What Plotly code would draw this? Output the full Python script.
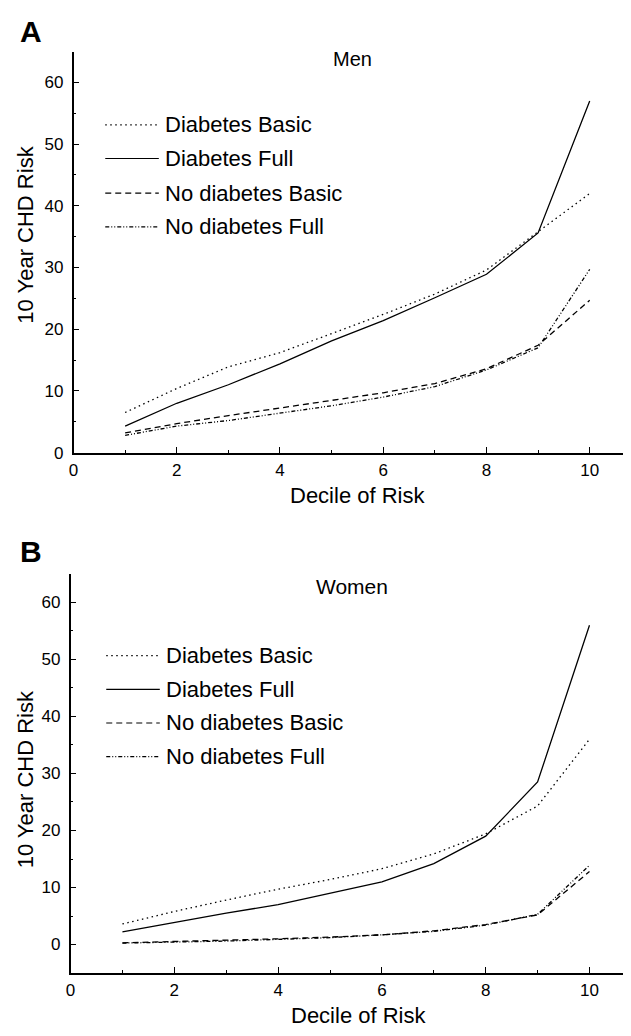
import plotly.graph_objects as go

# ---- data ----
deciles = [1, 2, 3, 4, 5, 6, 7, 8, 9, 10]
series_names = ["Diabetes Basic", "Diabetes Full", "No diabetes Basic", "No diabetes Full"]

men_diabetes_basic = [6.5, 10.4, 13.9, 16.2, 19.3, 22.4, 25.7, 29.6, 35.8, 42.0]
men_diabetes_full = [4.3, 8.0, 11.0, 14.4, 18.1, 21.4, 25.1, 28.9, 35.6, 57.0]
men_nodiab_basic = [3.2, 4.7, 6.0, 7.2, 8.4, 9.7, 11.2, 13.6, 17.4, 24.7]
men_nodiab_full = [2.8, 4.3, 5.2, 6.4, 7.6, 9.0, 10.7, 13.4, 17.0, 29.7]

women_diabetes_basic = [3.6, 5.8, 7.8, 9.7, 11.4, 13.3, 15.9, 19.4, 24.3, 36.0]
women_diabetes_full = [2.2, 3.9, 5.5, 7.0, 9.0, 11.0, 14.2, 19.0, 28.5, 56.0]
women_nodiab_basic = [0.3, 0.5, 0.7, 1.0, 1.3, 1.7, 2.4, 3.5, 5.2, 12.8]
women_nodiab_full = [0.25, 0.4, 0.6, 0.9, 1.2, 1.7, 2.3, 3.4, 5.3, 13.9]

x_ticks = [0, 2, 4, 6, 8, 10]
y_ticks = [0, 10, 20, 30, 40, 50, 60]

# ---- style ----
OFF = 8  # default page body margin
W, H = 631 - OFF, 1036 - OFF
FONT = "Arial, Liberation Sans, Helvetica, sans-serif"
dashes = ["1.5px,3.5px", "solid", "6px,4px", "4px,2px,1px,2px,1px,2px"]

men = [men_diabetes_basic, men_diabetes_full, men_nodiab_basic, men_nodiab_full]
women = [women_diabetes_basic, women_diabetes_full, women_nodiab_basic, women_nodiab_full]

fig = go.Figure()
for name, vals, dash in zip(series_names, men, dashes):
    fig.add_trace(go.Scatter(x=deciles, y=vals, mode="lines", name=name,
                             line=dict(color="black", width=1.3, dash=dash),
                             xaxis="x", yaxis="y", showlegend=False))
for name, vals, dash in zip(series_names, women, dashes):
    fig.add_trace(go.Scatter(x=deciles, y=vals, mode="lines", name=name,
                             line=dict(color="black", width=1.3, dash=dash),
                             xaxis="x2", yaxis="y2", showlegend=False))

def px(xp):
    return (xp - OFF) / W

def py(yp):
    return 1 - (yp - OFF) / H

axis_common = dict(showline=True, linecolor="black", linewidth=1.5, showgrid=False,
                   zeroline=False, ticks="inside", ticklen=6, tickwidth=1.2,
                   tickcolor="black",
                   tickfont=dict(family=FONT, size=17, color="black"))

xa = dict(axis_common, range=[0, 10.8], tickvals=x_ticks, ticklabelstandoff=1,
          minor=dict(ticks="inside", ticklen=3, tickwidth=1, dtick=1, tick0=0, tickcolor="black"))
ya = dict(axis_common, tickvals=y_ticks, ticklabelstandoff=5,
          minor=dict(ticks="inside", ticklen=3, tickwidth=1, dtick=5, tick0=0, tickcolor="black"))

fig.update_layout(
    width=W, height=H,
    margin=dict(l=0, r=0, t=0, b=0),
    paper_bgcolor="white", plot_bgcolor="white",
    showlegend=False,
    xaxis=dict(xa, domain=[px(69), 1], anchor="y"),
    yaxis=dict(ya, domain=[py(457), py(52)], range=[0, 65], anchor="x"),
    xaxis2=dict(xa, domain=[px(66), 1], anchor="y2"),
    yaxis2=dict(ya, domain=[py(982.5), py(579.5)], range=[-5, 65], anchor="x2"),
)

annotations = []
shapes = []

def text(x, y, s, size, bold=False, angle=0, xanchor="center"):
    annotations.append(dict(x=px(x), y=py(y), xref="paper", yref="paper", text=("<b>%s</b>" % s) if bold else s,
                            showarrow=False, xanchor=xanchor, yanchor="middle", textangle=angle,
                            font=dict(family=FONT, size=size, color="black")))

# panel letters / titles
text(26, 32, "A", 30, bold=True)
text(26, 557, "B", 30, bold=True)
text(350, 60, "Men", 20)
text(350, 592, "Women", 21)
text(355, 500, "Decile of Risk", 22)
text(356, 1025, "Decile of Risk", 22)
text(21, 237, "10 Year CHD Risk", 22, angle=-90)
text(21, 787, "10 Year CHD Risk", 22, angle=-90)

# custom legends
for rows, x0 in (([126, 160, 195, 229], 101), ([662, 696, 730, 764], 102)):
    for name, dash, yrow in zip(series_names, dashes, rows):
        shapes.append(dict(type="line", xref="paper", yref="paper",
                           x0=px(x0), x1=px(x0 + 54), y0=py(yrow), y1=py(yrow),
                           line=dict(color="black", width=1.2, dash=dash)))
        text(x0 + 58, yrow, name, 22, xanchor="left")

fig.update_layout(annotations=annotations, shapes=shapes)
fig.write_html("out.html")
